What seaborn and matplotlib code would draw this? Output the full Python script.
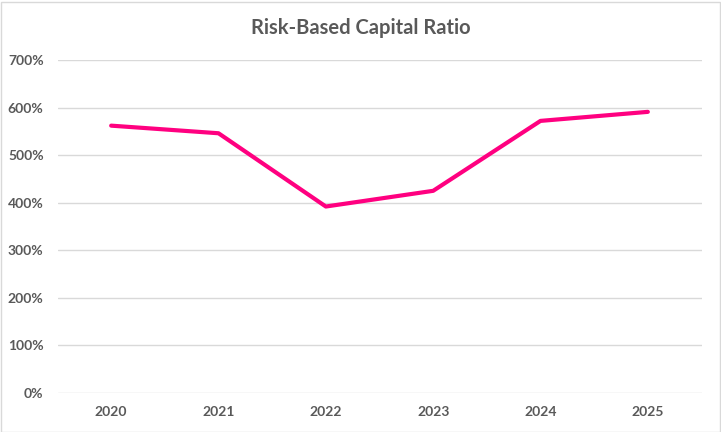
import pandas as pd
import seaborn as sns
from matplotlib import pyplot as plt
from matplotlib.patches import Rectangle
from matplotlib.ticker import FuncFormatter

years = ["2020", "2021", "2022", "2023", "2024", "2025"]
rbc_ratio = [5.62, 5.46, 3.92, 4.25, 5.72, 5.91]

df = pd.DataFrame({"year": years, "ratio": rbc_ratio})

sns.set_theme(style="white")
plt.rcParams["font.family"] = ["Lato", "DejaVu Sans"]

fig = plt.figure(figsize=(7.21, 4.32), dpi=100)
ax = fig.add_axes([57.5 / 721, 39 / 432, 644 / 721, 333 / 432])

sns.lineplot(data=df, x="year", y="ratio", ax=ax, color="#ff0080",
             linewidth=3, sort=False)

ax.set_ylim(0, 7)
ax.set_xlim(-0.5, 5.5)
ax.set_yticks(range(0, 8))
ax.yaxis.set_major_formatter(FuncFormatter(lambda v, _: f"{v * 100:.0f}%"))
ax.grid(axis="y", color="#d9d9d9", linewidth=1)
ax.set_axisbelow(True)
for s in ax.spines.values():
    s.set_visible(False)
ax.tick_params(axis="both", length=0, labelsize=10, labelcolor="#595959")
ax.tick_params(axis="x", pad=9)
ax.tick_params(axis="y", pad=10)
for lbl in ax.get_xticklabels() + ax.get_yticklabels():
    lbl.set_fontweight("bold")
ax.set_xlabel("")
ax.set_ylabel("")

fig.suptitle("Risk-Based Capital Ratio", y=1 - 28 / 432, va="center",
             fontsize=14.5, fontweight="bold", color="#595959")

# outer chart border
fig.patches.append(Rectangle((0.5 / 721, 0.5 / 432), 719 / 721, 430 / 432,
                             transform=fig.transFigure, fill=False,
                             edgecolor="#d9d9d9", linewidth=1))

plt.savefig("out.png", dpi=100)
